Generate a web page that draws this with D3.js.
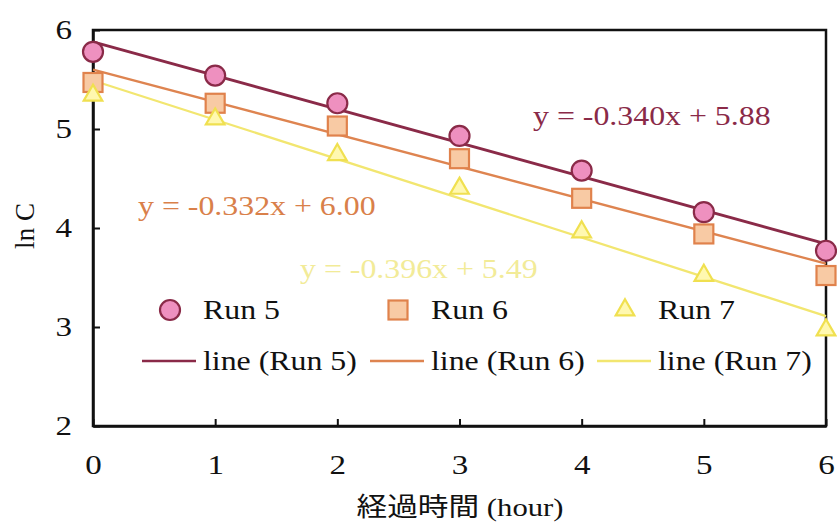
<!DOCTYPE html>
<html>
<head>
<meta charset="utf-8">
<script src="https://cdn.jsdelivr.net/npm/d3@7"></script>
<style>
body { margin: 0; background: #fff; }
text { font-family: "Liberation Serif", "Times New Roman", "Noto Sans CJK JP", serif; }
</style>
</head>
<body>
<svg width="837" height="524"></svg>
<script>
// data
var hours = [0, 1, 2, 3, 4, 5, 6];
var run5 = [5.78, 5.54, 5.26, 4.93, 4.58, 4.16, 3.77];
var run6 = [5.47, 5.26, 5.03, 4.70, 4.30, 3.94, 3.52];
var run7 = [5.34, 5.10, 4.74, 4.40, 3.96, 3.52, 2.97];
// fitted lines as drawn: [value at 0h, value at 6h]
var line5 = [5.88, 3.84];
var line6 = [5.60, 3.64];
var line7 = [5.49, 3.11];
var xTicks = [0, 1, 2, 3, 4, 5, 6];
var yTicks = [2, 3, 4, 5, 6];
var eqLabels = ["y = -0.340x + 5.88", "y = -0.332x + 6.00", "y = -0.396x + 5.49"];

var svg = d3.select("svg");
var x = d3.scaleLinear().domain([0, 6]).range([93, 826]);
var y = d3.scaleLinear().domain([2, 6]).range([426, 30]);
var SX = 1.18; // source text looks stretched sideways

var series = [
  {name: "Run 5", vals: run5, fit: line5, line: "#8a2a48", fill: "#ee90bf", stroke: "#8a2a48", shape: "circle"},
  {name: "Run 6", vals: run6, fit: line6, line: "#de8450", fill: "#f8caa4", stroke: "#e0824c", shape: "square"},
  {name: "Run 7", vals: run7, fit: line7, line: "#f2e670", fill: "#fff8b0", stroke: "#f0e050", shape: "triangle"}
];

function label(px, py, t, size, color, anchor) {
  return svg.append("text")
    .attr("transform", "translate(" + px + "," + py + ") scale(" + SX + ",1)")
    .attr("text-anchor", anchor || "start")
    .attr("font-size", size).attr("fill", color).text(t);
}

// frame
svg.append("rect")
  .attr("x", x(0)).attr("y", y(6))
  .attr("width", x(6) - x(0)).attr("height", y(2) - y(6))
  .attr("fill", "none").attr("stroke", "#111").attr("stroke-width", 2.5);

// axes with inward ticks
var xAxis = svg.append("g").attr("transform", "translate(0," + y(2) + ")")
  .call(d3.axisBottom(x).tickValues(xTicks).tickFormat(d3.format("d")).tickSizeInner(-7).tickSizeOuter(0));
var yAxis = svg.append("g").attr("transform", "translate(" + x(0) + ",0)")
  .call(d3.axisLeft(y).tickValues(yTicks).tickFormat(d3.format("d")).tickSizeInner(-7).tickSizeOuter(0));
[xAxis, yAxis].forEach(function(a) {
  a.select(".domain").attr("stroke", "#111").attr("stroke-width", 2.5);
  a.selectAll(".tick line").attr("stroke", "#111").attr("stroke-width", 2);
  a.selectAll(".tick text").attr("font-size", 28).attr("fill", "#111")
    .style("font-family", "'Liberation Serif', serif");
});
xAxis.selectAll(".tick text").attr("x", 0).attr("y", 0).attr("dy", 0)
  .attr("transform", "translate(0,48) scale(" + SX + ",1)");
yAxis.selectAll(".tick text").attr("x", 0).attr("dy", "0.32em")
  .attr("transform", "translate(-21,0) scale(" + SX + ",1)");

// axis titles
svg.append("text")
  .attr("transform", "translate(34,226) rotate(-90)")
  .attr("text-anchor", "middle").attr("font-size", 27).attr("fill", "#111")
  .text("ln C");
label(460, 516, "経過時間 (hour)", 26, "#111", "middle");

// equation labels
var eqPos = [[533, 125, "#8a2a48"], [138, 215, "#d9804a"], [300, 278, "#f2eb98"]];
eqLabels.forEach(function(t, i) {
  label(eqPos[i][0], eqPos[i][1], t, 27, eqPos[i][2]);
});

// fitted lines
series.forEach(function(s, i) {
  svg.append("line")
    .attr("x1", x(0)).attr("y1", y(s.fit[0]))
    .attr("x2", x(6)).attr("y2", y(s.fit[1]))
    .attr("stroke", s.line).attr("stroke-width", i === 0 ? 2.8 : 2.3);
});

function marker(g, s) {
  if (s.shape === "circle") {
    g.append("circle").attr("r", 10);
  } else if (s.shape === "square") {
    g.append("rect").attr("x", -9.5).attr("y", -9.5).attr("width", 19).attr("height", 19);
  } else {
    g.append("path").attr("d", d3.symbol().type(d3.symbolTriangle).size(150)());
  }
  g.selectAll("*").attr("fill", s.fill).attr("stroke", s.stroke).attr("stroke-width", 2.2);
}

// points
series.forEach(function(s) {
  svg.append("g").selectAll("g")
    .data(s.vals)
    .enter().append("g")
    .attr("transform", function(d, i) { return "translate(" + x(hours[i]) + "," + y(d) + ")"; })
    .each(function() { marker(d3.select(this), s); });
});

// legend
var legX = [170, 398, 625];
series.forEach(function(s, i) {
  var g = svg.append("g").attr("transform", "translate(" + legX[i] + ",310)");
  marker(g, s);
  label(legX[i] + 33, 319, s.name, 27, "#111");
  svg.append("line")
    .attr("x1", legX[i] - 28).attr("x2", legX[i] + 26)
    .attr("y1", 361).attr("y2", 361)
    .attr("stroke", s.line).attr("stroke-width", 2.3);
  label(legX[i] + 33, 370, "line (" + s.name + ")", 27, "#111");
});
</script>
</body>
</html>
